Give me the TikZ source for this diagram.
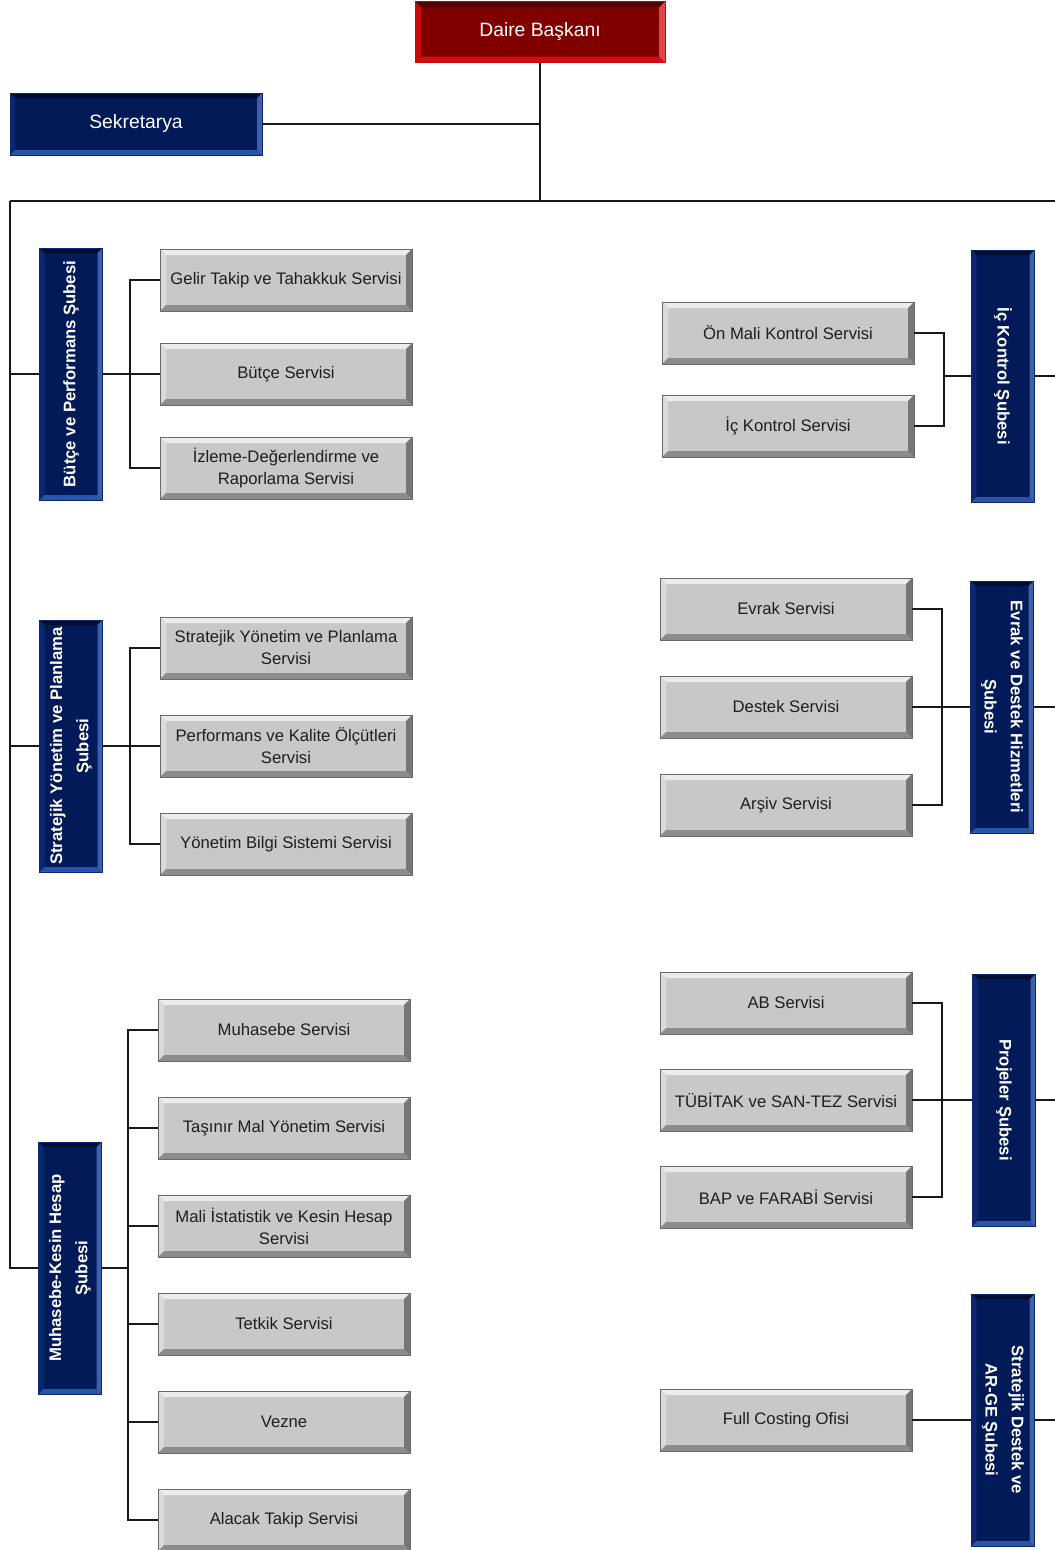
\documentclass[tikz,border=0pt]{standalone}
\usepackage{fontspec}
\setmainfont{Liberation Sans}
\usepackage{tikz}
\usetikzlibrary{arrows.meta, positioning, shapes}
\usepackage{xcolor}

\definecolor{servisgri}{RGB}{200,200,200}
\definecolor{griust}{RGB}{236,236,236}
\definecolor{grisol}{RGB}{218,218,218}
\definecolor{grialt}{RGB}{140,140,140}
\definecolor{grisag}{RGB}{118,118,118}
\definecolor{servisborder}{RGB}{105,105,105}
\definecolor{servisyazi}{RGB}{30,30,30}
\definecolor{lacivert}{RGB}{3,26,88}
\definecolor{lacust}{RGB}{0,12,48}
\definecolor{lacsol}{RGB}{10,40,112}
\definecolor{lacalt}{RGB}{42,84,168}
\definecolor{lacsag}{RGB}{60,96,172}
\definecolor{kirmizi}{RGB}{128,0,0}
\definecolor{kirust}{RGB}{82,0,0}
\definecolor{kirsol}{RGB}{200,10,10}
\definecolor{kiralt}{RGB}{208,16,16}
\definecolor{kirsag}{RGB}{222,70,70}
\definecolor{cizgi}{RGB}{25,25,25}

% kabartma kenarlari: genislik, ust, sol, alt, sag
\newcommand{\kabartma}[5]{%
  \fill[#2] (path picture bounding box.north west) -- (path picture bounding box.north east)
    -- ++(-#1,-#1) -- ([shift={(#1,-#1)}]path picture bounding box.north west) -- cycle;
  \fill[#3] (path picture bounding box.north west) -- (path picture bounding box.south west)
    -- ++(#1,#1) -- ([shift={(#1,-#1)}]path picture bounding box.north west) -- cycle;
  \fill[#4] (path picture bounding box.south west) -- (path picture bounding box.south east)
    -- ++(-#1,#1) -- ([shift={(#1,#1)}]path picture bounding box.south west) -- cycle;
  \fill[#5] (path picture bounding box.north east) -- (path picture bounding box.south east)
    -- ++(-#1,#1) -- ([shift={(-#1,-#1)}]path picture bounding box.north east) -- cycle;
}

\begin{document}
\begin{tikzpicture}[node distance=1.96cm]
    \tikzstyle{servis} = [rectangle, draw=servisborder, fill=servisgri, minimum width=5.04cm, minimum height=1.24cm, inner sep=1pt, align=center, text=servisyazi, font=\fontsize{9.5}{12.5}\selectfont, path picture={\kabartma{0.12}{griust}{grisol}{grialt}{grisag}}]
    \tikzstyle{sube} = [rectangle, draw=lacsol, fill=lacivert, minimum width=1.26cm, minimum height=5.04cm, inner sep=0pt, path picture={\kabartma{0.1}{lacust}{lacsol}{lacalt}{lacsag}}]
    \tikzstyle{subeyazi} = [text=white, align=center, inner sep=0pt, font=\bfseries\fontsize{9.5}{15}\selectfont]
    \tikzstyle{baskan} = [rectangle, draw=kirsol, fill=kirmizi, minimum width=5cm, minimum height=1.22cm, text=white, font=\fontsize{11}{13}\selectfont, path picture={\kabartma{0.12}{kirust}{kirsol}{kiralt}{kirsag}}]
    \tikzstyle{sekreter} = [rectangle, draw=lacsol, fill=lacivert, minimum width=5.04cm, minimum height=1.24cm, text=white, font=\fontsize{11}{13}\selectfont, path picture={\kabartma{0.1}{lacust}{lacsol}{lacalt}{lacsag}}]
    \tikzstyle{line} = [draw, line width=0.8pt, color=cizgi]

    \path[use as bounding box, fill=white] (0,0) rectangle (21.1,-31);

    % ust birimler
    \node[baskan] (daire) at (10.8,-0.64) {Daire Başkanı};
    \node[sekreter] (sek) at (2.72,-2.48) {Sekretarya};
    \coordinate (solhat) at (0.2,-4.02);
    \coordinate (saghat) at (21.1,-4.02);

    % sol servisler
    \node[servis] (gelir) at (5.72,-5.6) {Gelir Takip ve Tahakkuk Servisi};
    \node[servis, below of=gelir, node distance=1.88cm] (butce) {Bütçe Servisi};
    \node[servis, below of=butce, node distance=1.88cm] (izleme) {İzleme-Değerlendirme  ve\\Raporlama Servisi};

    \node[servis] (stratyon) at (5.72,-12.96) {Stratejik Yönetim ve Planlama\\Servisi};
    \node[servis, below of=stratyon] (perf) {Performans  ve Kalite Ölçütleri\\Servisi};
    \node[servis, below of=perf] (ybs) {Yönetim Bilgi Sistemi Servisi};

    \node[servis] (muhasebe) at (5.68,-20.6) {Muhasebe Servisi};
    \node[servis, below of=muhasebe] (tasinir) {Taşınır Mal Yönetim Servisi};
    \node[servis, below of=tasinir] (mali) {Mali İstatistik ve Kesin Hesap\\Servisi};
    \node[servis, below of=mali] (tetkik) {Tetkik Servisi};
    \node[servis, below of=tetkik] (vezne) {Vezne};
    \node[servis, below of=vezne] (alacak) {Alacak Takip Servisi};

    % sol subeler
    \node[sube, left of=butce, node distance=4.3cm, label={[subeyazi, rotate=90]center:Bütçe ve Performans Şubesi}] (butce_sube) {};
    \node[sube, left of=perf, node distance=4.3cm, label={[subeyazi, rotate=90]center:Stratejik Yönetim ve Planlama\\Şubesi}] (strat_sube) {};
    \node[sube, left of=mali, node distance=4.28cm, yshift=-0.84cm, label={[subeyazi, rotate=90]center:Muhasebe-Kesin Hesap\\Şubesi}] (muh_sube) {};

    % sag servisler
    \node[servis] (onmali) at (15.76,-6.66) {Ön Mali Kontrol Servisi};
    \node[servis, below of=onmali, node distance=1.86cm] (ickontrol) {İç Kontrol Servisi};

    \node[servis] (evrak) at (15.72,-12.18) {Evrak Servisi};
    \node[servis, below of=evrak] (destek) {Destek Servisi};
    \node[servis, below of=destek] (arsiv) {Arşiv Servisi};

    \node[servis] (ab) at (15.72,-20.06) {AB Servisi};
    \node[servis, below of=ab, node distance=1.94cm] (tubitak) {TÜBİTAK ve SAN-TEZ Servisi};
    \node[servis, below of=tubitak, node distance=1.94cm] (bap) {BAP ve FARABİ Servisi};

    \node[servis, below of=bap, node distance=4.46cm] (fullcost) {Full Costing Ofisi};

    % sag subeler
    \node[sube, right of=onmali, node distance=4.3cm, yshift=-0.86cm, label={[subeyazi, rotate=-90]center:İç Kontrol Şubesi}] (ic_sube) {};
    \node[sube, right of=destek, node distance=4.32cm, label={[subeyazi, rotate=-90]center:Evrak ve Destek Hizmetleri\\Şubesi}] (evrak_sube) {};
    \node[sube, right of=tubitak, node distance=4.36cm, label={[subeyazi, rotate=-90]center:Projeler Şubesi}] (proje_sube) {};
    \node[sube, right of=fullcost, node distance=4.34cm, label={[subeyazi, rotate=-90]center:Stratejik Destek ve\\AR-GE  Şubesi}] (arge_sube) {};

    \coordinate (kol1) at (2.6,0);
    \coordinate (kol2) at (2.6,0);
    \coordinate (kol3) at (2.56,0);
    \coordinate (sagkol1) at (18.88,0);
    \coordinate (sagkol2) at (18.84,0);
    \coordinate (sagkol3) at (18.84,0);

    % ana hatlar
    \path[line] (daire.south) -- (daire.south |- solhat);
    \path[line] (sek.east) -- (sek.east -| daire.south);
    \path[line] (solhat) -- (saghat);
    \path[line] (solhat) |- (butce_sube.west);
    \path[line] (solhat) |- (strat_sube.west);
    \path[line] (solhat) |- (muh_sube.west);

    % sol baglantilar
    \path[line] (gelir.west) -| (kol1 |- izleme.west) -- (izleme.west);
    \path[line] (butce_sube.east) -- (butce.west);
    \path[line] (stratyon.west) -| (kol2 |- ybs.west) -- (ybs.west);
    \path[line] (strat_sube.east) -- (perf.west);
    \path[line] (muhasebe.west) -| (kol3 |- alacak.west) -- (alacak.west);
    \foreach \s in {tasinir, mali, tetkik, vezne}
        \path[line] (kol3 |- \s.west) -- (\s.west);
    \path[line] (muh_sube.east) -- (muh_sube.east -| kol3);

    % sag baglantilar
    \path[line] (onmali.east) -| (sagkol1 |- ickontrol.east) -- (ickontrol.east);
    \path[line] (sagkol1 |- ic_sube.west) -- (ic_sube.west);
    \path[line] (ic_sube.east) -- (ic_sube.east -| saghat);
    \path[line] (evrak.east) -| (sagkol2 |- arsiv.east) -- (arsiv.east);
    \path[line] (destek.east) -- (evrak_sube.west);
    \path[line] (evrak_sube.east) -- (evrak_sube.east -| saghat);
    \path[line] (ab.east) -| (sagkol3 |- bap.east) -- (bap.east);
    \path[line] (tubitak.east) -- (proje_sube.west);
    \path[line] (proje_sube.east) -- (proje_sube.east -| saghat);
    \path[line] (fullcost.east) -- (arge_sube.west);
    \path[line] (arge_sube.east) -- (arge_sube.east -| saghat);
\end{tikzpicture}
\end{document}
